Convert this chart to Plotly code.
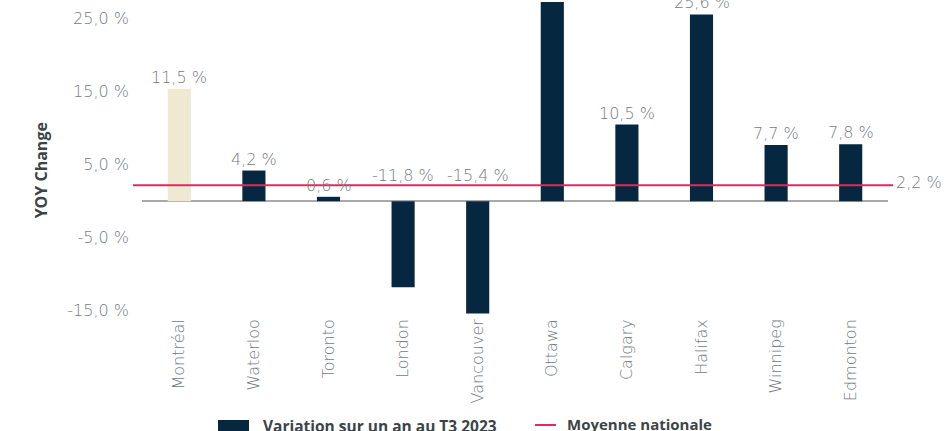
import plotly.graph_objects as go

cities = ["Montréal", "Waterloo", "Toronto", "London", "Vancouver",
          "Ottawa", "Calgary", "Halifax", "Winnipeg", "Edmonton"]
bar_values = [15.4, 4.2, 0.6, -11.8, -15.4, 31.0, 10.5, 25.6, 7.7, 7.8]
bar_labels = ["11,5 %", "4,2 %", "0,6 %", "-11,8 %", "-15,4 %",
              "", "10,5 %", "25,6 %", "7,7 %", "7,8 %"]
national_avg = 2.2
national_label = "2,2 %"
ytick_vals = [25, 15, 5, -5, -15]
ytick_text = ["25,0 %", "15,0 %", "5,0 %", "-5,0 %", "-15,0 %"]

NAVY = "#062740"
BEIGE = "#efe9d1"
PINK = "#e4285f"
GRAY_TXT = "#737b7f"
DARK_TXT = "#3c4448"
LIGHT_FONT = "DejaVu Sans"
BOLD_FONT = "Open Sans"
LW = 200
LS = 16

colors = [BEIGE] + [NAVY] * (len(cities) - 1)

fig = go.Figure()
fig.add_trace(go.Bar(x=cities, y=bar_values, marker_color=colors,
                     marker_line_width=0, showlegend=False,
                     cliponaxis=True, hoverinfo="x+y"))

# value labels
for c, v, t in zip(cities, bar_values, bar_labels):
    if not t:
        continue
    fig.add_annotation(x=c, y=max(v, 0), xref="x", yref="y", text=t,
                       showarrow=False, yanchor="bottom",
                       yshift=0 if v >= 0 else 14,
                       font=dict(family=LIGHT_FONT, size=LS, color=GRAY_TXT, weight=LW))

# national average line
fig.add_shape(type="line", xref="paper", yref="y", x0=-0.012, x1=1.007,
              y0=national_avg, y1=national_avg, line=dict(color=PINK, width=2), layer="above")
fig.add_annotation(xref="paper", yref="y", x=1.008, y=national_avg, text=national_label,
                   showarrow=False, xanchor="left", yanchor="middle", yshift=3,
                   font=dict(family=LIGHT_FONT, size=LS, color=GRAY_TXT, weight=LW))

# y-axis title
fig.add_annotation(xref="paper", yref="paper", x=-0.135, y=0.463, text="YOY Change",
                   textangle=-90, showarrow=False, xanchor="center", yanchor="middle",
                   font=dict(family=BOLD_FONT, size=16, color=DARK_TXT, weight=700))

# manual legend
fig.add_shape(type="rect", xref="paper", yref="paper",
              x0=(218 - 142) / 746, x1=(249 - 142) / 746,
              y0=(315 - 420) / 313, y1=(315 - 440) / 313,
              fillcolor=NAVY, line_width=0)
fig.add_annotation(xref="paper", yref="paper", x=(261 - 142) / 746, y=(315 - 426) / 313,
                   text="Variation sur un an au T3 2023", showarrow=False,
                   xanchor="left", yanchor="middle",
                   font=dict(family=BOLD_FONT, size=15.5, color=DARK_TXT, weight=700))
fig.add_shape(type="line", xref="paper", yref="paper",
              x0=(535 - 142) / 746, x1=(556 - 142) / 746,
              y0=(315 - 425) / 313, y1=(315 - 425) / 313,
              line=dict(color=PINK, width=2))
fig.add_annotation(xref="paper", yref="paper", x=(565 - 142) / 746, y=(315 - 424) / 313,
                   text="Moyenne nationale", showarrow=False,
                   xanchor="left", yanchor="middle",
                   font=dict(family=BOLD_FONT, size=15, color=DARK_TXT, weight=700))

fig.update_layout(
    width=946, height=431,
    margin=dict(l=142, r=58, t=2, b=116),
    paper_bgcolor="white", plot_bgcolor="white",
    bargap=0.69, showlegend=False,
    font=dict(family=LIGHT_FONT, color=GRAY_TXT),
)
fig.update_xaxes(showgrid=False, showline=False, zeroline=False, tickangle=-90,
                 ticks="", tickfont=dict(family=LIGHT_FONT, size=LS, color=GRAY_TXT, weight=LW))
fig.update_yaxes(range=[-15.6, 27.3], showgrid=False, showline=False,
                 zeroline=True, zerolinecolor="#a9a9a9", zerolinewidth=2,
                 tickvals=ytick_vals, ticktext=ytick_text, ticklabelstandoff=12,
                 tickfont=dict(family=LIGHT_FONT, size=LS, color=GRAY_TXT, weight=LW))

fig.write_html("out.html", config={"displayModeBar": False},
               post_script="document.body.style.margin='0';")
